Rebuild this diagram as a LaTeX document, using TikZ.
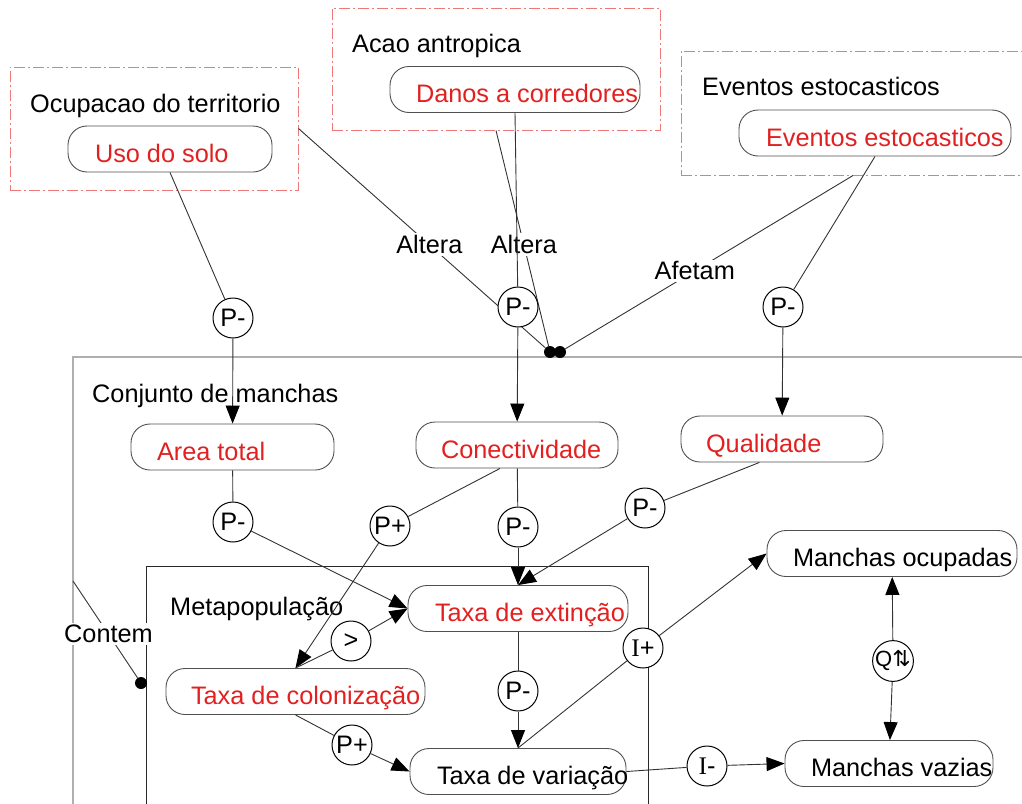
\documentclass[tikz,border=0pt]{standalone}
\usepackage{fontspec}
\setmainfont{Liberation Sans}
\newfontfamily\serifI{Liberation Serif}
\newfontfamily\dejavu{DejaVu Sans}
\usetikzlibrary{arrows.meta}
\definecolor{qred}{RGB}{226,32,32}
\definecolor{entred}{RGB}{238,120,120}
\definecolor{boxgray}{RGB}{80,80,80}
\definecolor{conjgray}{RGB}{175,175,175}
\definecolor{metagray}{RGB}{40,40,40}
\newcommand\qtext[3]{\makebox[#1pt][l]{\hspace*{#2pt}#3}}
\begin{document}
\begin{tikzpicture}[x=1pt,y=-1pt,
  every node/.style={font=\fontsize{25.3}{29}\selectfont},
  entity/.style={draw=entred, line width=1pt, dash pattern=on 11pt off 3pt on 2pt off 3pt, inner sep=0pt},
  conjbox/.style={draw=conjgray, line width=1.2pt, inner sep=0pt},
  metabox/.style={draw=metagray, line width=1pt, inner sep=0pt},
  quantity/.style={draw=boxgray, line width=0.9pt, rounded corners=19pt, minimum height=46pt, inner sep=0pt, text height=26pt, text depth=0pt},
  circ/.style={circle, draw=black, line width=1pt, fill=white, minimum size=40pt, inner sep=0pt},
  conn/.style={draw=black!80, line width=0.9pt},
  arr/.style={conn, -{Triangle[length=18pt,width=14pt,black]}},
  lbl/.style={fill=white, inner sep=2pt},
  dot/.style={circle, fill=black, minimum size=12pt, inner sep=0pt},
  title/.style={anchor=base west, inner sep=0pt}
]
\useasboundingbox (0,0) rectangle (1022,803);
% containers
\node[entity, minimum width=288pt, minimum height=123pt] (ocupC) at (154,128.5) {};
\node[entity, minimum width=328pt, minimum height=122pt] (acaoC) at (496,69) {};
\node[entity, minimum width=344pt, minimum height=124pt] (evC) at (853,113) {};
\node[conjbox, minimum width=967pt, minimum height=473pt] (conj) at (556.5,593.5) {};
\node[metabox, minimum width=502pt, minimum height=264pt] (meta) at (397,698) {};
% titles
\node[title] (tOcup) at (30,112) {Ocupacao do territorio};
\node[title] (tAcao) at (352,52) {Acao antropica};
\node[title] (tEv) at (702,95) {Eventos estocasticos};
\node[title] (tConj) at (92,402) {Conjunto de manchas};
\node[title] (tMeta) at (170,615) {Metapopulação};
% dots
\node[dot] (d1) at (550,352) {};
\node[dot] (d2) at (560,352) {};
\node[dot] (dM) at (141,683) {};
\coordinate (cL) at (73,581);
% configurations
\draw[conn] (ocupC.east) -- node[lbl,pos=0.53]{Altera} (d1);
\draw[conn] (acaoC.south) -- node[lbl,pos=0.53]{Altera} (d1);
\draw[conn] (evC.south) -- node[lbl,pos=0.55]{Afetam} (d2);
\draw[conn] (cL) -- node[lbl,pos=0.55]{Contem} (dM);
% quantities
\node[quantity, text=qred] (uso) at (170,149) {\qtext{204}{27}{Uso do solo}};
\node[quantity, text=qred] (danos) at (515,89.5) {\qtext{250}{26}{Danos a corredores}};
\node[quantity, text=qred] (evq) at (875,133) {\qtext{272}{27}{Eventos estocasticos}};
\node[quantity, text=qred] (area) at (232.5,447) {\qtext{203}{26}{Area total}};
\node[quantity, text=qred] (con) at (517,445) {\qtext{202}{25}{Conectividade}};
\node[quantity, text=qred] (qual) at (782,439) {\qtext{202}{25}{Qualidade}};
\node[quantity, text=qred] (ext) at (518,608.5) {\qtext{220}{27}{Taxa de extinção}};
\node[quantity, text=qred] (col) at (295.5,691.5) {\qtext{259}{25}{Taxa de colonização}};
\node[quantity] (var) at (518,771.5) {\qtext{216}{27}{Taxa de variação}};
\node[quantity] (mo) at (892,553.5) {\qtext{250}{26}{Manchas ocupadas}};
\node[quantity] (mv) at (889,763.5) {\qtext{208}{26}{Manchas vazias}};
% dependency circles
\node[circ] (pU) at (233,318) {P-};
\node[circ] (pD) at (518,307) {P-};
\node[circ] (pE) at (783,307) {P-};
\node[circ] (pA) at (233,522) {P-};
\node[circ] (pCp) at (390,526) {P+};
\node[circ] (pCm) at (518,527) {P-};
\node[circ] (pQ) at (645,508) {P-};
\node[circ] (gt) at (351,641) {>};
\node[circ] (pEV) at (518,691) {P-};
\node[circ] (pCV) at (352,745) {P+};
\node[circ] (iP) at (643,648) {{\serifI I}+};
\node[circ] (iM) at (707,766) {{\serifI I}-};
\node[circ, font=\fontsize{22}{24}\selectfont] (qC) at (893,661) {Q{\dejavu ⇅}};
% connectors
\draw[conn] (uso.south) -- (pU);
\draw[arr] (pU) -- (area);
\draw[conn] (danos.south) -- (pD);
\draw[arr] (pD) -- (con);
\draw[conn] (evq.south) -- (pE);
\draw[arr] (pE) -- (qual);
\draw[conn] (area) -- (pA);
\draw[arr] (pA) -- (ext.west);
\draw[conn] (con.234) -- (pCp);
\draw[arr] (pCp) -- (col.north);
\draw[conn] (con) -- (pCm);
\draw[arr] (pCm) -- (ext);
\draw[conn] (qual.226) -- (pQ);
\draw[arr] (pQ) -- (ext.north);
\draw[conn] (col.north) -- (gt);
\draw[arr] (gt) -- (ext.west);
\draw[conn] (ext) -- (pEV);
\draw[arr] (pEV) -- (var);
\draw[conn] (col.south) -- (pCV);
\draw[arr] (pCV) -- (var.west);
\draw[conn] (var.north) -- (iP);
\draw[arr] (iP) -- (mo.west);
\draw[conn] (var.east) -- (iM);
\draw[arr] (iM) -- (mv.west);
\draw[arr] (qC) -- (mo);
\draw[arr] (qC) -- (mv);
\end{tikzpicture}
\end{document}
